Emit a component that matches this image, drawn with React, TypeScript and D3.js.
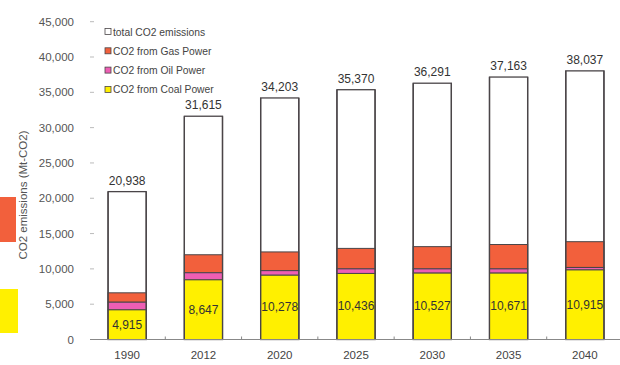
import React from "react";
import * as d3 from "d3";

const years = ["1990", "2012", "2020", "2025", "2030", "2035", "2040"];
const totals = [20938, 31615, 34203, 35370, 36291, 37163, 38037];
const coal = [4200, 8450, 9100, 9350, 9400, 9400, 9850];
const oil = [1080, 1000, 650, 650, 600, 600, 350];
const gas = [1330, 2550, 2650, 2900, 3150, 3450, 3650];
const coalLabels = ["4,915", "8,647", "10,278", "10,436", "10,527", "10,671", "10,915"];
const totalLabels = ["20,938", "31,615", "34,203", "35,370", "36,291", "37,163", "38,037"];
const yTicks = [0, 5000, 10000, 15000, 20000, 25000, 30000, 35000, 40000, 45000];
const legendItems = [
  { label: "total CO2 emissions", color: "#ffffff" },
  { label: "CO2 from Gas Power", color: "#f2603c" },
  { label: "CO2 from Oil Power", color: "#ee5eb4" },
  { label: "CO2 from Coal Power", color: "#fff000" },
];

const W = 620;
const H = 365;
const FONT = "'Liberation Sans', Arial, sans-serif";
const COAL = "#fff000";
const GAS = "#f2603c";
const OIL = "#ee5eb4";
const EDGE = "#4a4548";

export default function App() {
  const x = d3.scaleBand<string>().domain(years).range([89, 623]).paddingInner(0.5).paddingOuter(0.25);
  const y = d3.scaleLinear().domain([0, 45000]).range([339.5, 21.7]);
  const fmt = d3.format(",");
  const bw = x.bandwidth();
  const step = x.step();

  return (
    <svg width={W} height={H} style={{ position: "absolute", left: 0, top: 0, background: "#fff" }}>
      <rect x={0} y={0} width={W} height={H} fill="#ffffff" />
      {/* cropped legend swatches on the left edge */}
      <rect x={0} y={197} width={16} height={45} fill={GAS} />
      <rect x={0} y={289} width={18} height={44} fill={COAL} />

      {/* y axis */}
      {yTicks.map((t) => (
        <g key={t}>
          <line x1={90} x2={94} y1={y(t)} y2={y(t)} stroke="#bbb" strokeWidth={1} />
          <text x={74} y={y(t) + 4} textAnchor="end" fontSize={11.5} fill="#555" fontFamily={FONT}>
            {fmt(t)}
          </text>
        </g>
      ))}
      <text
        transform={`translate(27,${195}) rotate(-90)`}
        textAnchor="middle"
        fontSize={11.5}
        fill="#555"
        fontFamily={FONT}
      >
        CO2 emissions (Mt-CO2)
      </text>

      {/* bars */}
      {years.map((yr, i) => {
        const x0 = x(yr)!;
        const c1 = coal[i];
        const o1 = c1 + oil[i];
        const g1 = o1 + gas[i];
        return (
          <g key={yr}>
            <rect x={x0} y={y(totals[i])} width={bw} height={y(0) - y(totals[i])} fill="#fff" stroke={EDGE} strokeWidth={1.3} />
            <rect x={x0} y={y(g1)} width={bw} height={y(o1) - y(g1)} fill={GAS} stroke={EDGE} strokeWidth={1} />
            <rect x={x0} y={y(o1)} width={bw} height={y(c1) - y(o1)} fill={OIL} stroke={EDGE} strokeWidth={1} />
            <rect x={x0} y={y(c1)} width={bw} height={y(0) - y(c1)} fill={COAL} stroke={EDGE} strokeWidth={1} />
            <line x1={x0} x2={x0} y1={y(totals[i])} y2={y(0)} stroke={EDGE} strokeWidth={1.3} />
            <line x1={x0 + bw} x2={x0 + bw} y1={y(totals[i])} y2={y(0)} stroke={EDGE} strokeWidth={1.3} />
            <text
              x={x0 + bw / 2}
              y={(y(0) + y(c1)) / 2 + 4}
              textAnchor="middle"
              fontSize={12}
              fill="#333"
              fontFamily={FONT}
            >
              {coalLabels[i]}
            </text>
            <text
              x={x0 + bw / 2}
              y={y(totals[i]) - 7}
              textAnchor="middle"
              fontSize={12}
              fill="#333"
              fontFamily={FONT}
            >
              {totalLabels[i]}
            </text>
            <text x={x0 + bw / 2} y={359} textAnchor="middle" fontSize={11.5} fill="#444" fontFamily={FONT}>
              {yr}
            </text>
          </g>
        );
      })}

      {/* x axis */}
      <line x1={90} x2={620} y1={y(0)} y2={y(0)} stroke="#888" strokeWidth={1} />
      {years.slice(0, -1).map((yr) => {
        const tx = x(yr)! + bw + (step - bw) / 2;
        return <line key={yr} x1={tx} x2={tx} y1={y(0)} y2={y(0) - 3} stroke="#888" strokeWidth={1} />;
      })}

      {/* legend */}
      {legendItems.map((it, i) => (
        <g key={it.label} transform={`translate(105,${32 + i * 19.3})`}>
          <rect x={0} y={-3.5} width={6} height={6} fill={it.color} stroke={EDGE} strokeWidth={0.8} />
          <text x={8} y={3.5} fontSize={10.3} fill="#444" fontFamily={FONT}>
            {it.label}
          </text>
        </g>
      ))}
    </svg>
  );
}
